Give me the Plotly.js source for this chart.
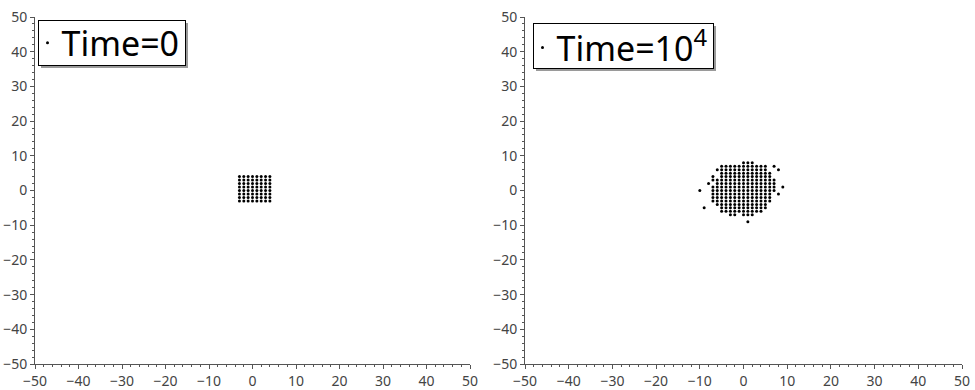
<!DOCTYPE html>
<html>
<head>
<meta charset="utf-8">
<script src="https://cdn.plot.ly/plotly-3.0.1.min.js"></script>
<style>
  html, body { margin: 0; padding: 0; background: #fff; }
  #chart { width: 975px; height: 390px; }
</style>
</head>
<body>
<div id="chart"></div>
<script>
// Initial configuration: a square lattice of particles
const startCols = [-3, -2, -1, 0, 1, 2, 3, 4];
const startRows = [4, 3, 2, 1, 0, -1, -2, -3];

// Configuration after 10^4 steps: occupied x positions for each row y
const laterRowY = [8, 7, 6, 5, 4, 3, 2, 1, 0, -1, -2, -3, -4, -5, -6, -7, -9];
const laterRowX = [
  [0, 1, 2],
  [-5, -4, -3, -2, -1, 0, 1, 2, 3, 4, 5, 7],
  [-6, -5, -4, -3, -2, -1, 0, 1, 2, 3, 4, 5, 8],
  [-5, -4, -3, -2, -1, 0, 1, 2, 3, 4, 5, 6],
  [-7, -5, -4, -3, -2, -1, 0, 1, 2, 3, 4, 5, 6],
  [-7, -6, -5, -4, -3, -2, -1, 0, 1, 2, 3, 4, 5, 6, 7],
  [-8, -6, -5, -4, -3, -2, -1, 0, 1, 2, 3, 4, 5, 6, 7],
  [-7, -6, -5, -4, -3, -2, -1, 0, 1, 2, 3, 4, 5, 6, 7, 9],
  [-10, -7, -6, -5, -4, -3, -2, -1, 0, 1, 2, 3, 4, 5, 6, 7],
  [-7, -6, -5, -4, -3, -2, -1, 0, 1, 2, 3, 4, 5, 6, 8],
  [-7, -6, -5, -4, -3, -2, -1, 0, 1, 2, 3, 4, 5, 6],
  [-7, -6, -5, -4, -3, -2, -1, 0, 1, 2, 3, 4, 5, 6],
  [-6, -5, -4, -3, -2, -1, 0, 1, 2, 3, 4, 5],
  [-9, -5, -4, -3, -2, -1, 0, 1, 2, 3, 4, 5],
  [-5, -4, -3, -2, -1, 0, 1, 2, 3, 4],
  [-3, -2, 0, 1, 2],
  [1]
];

const legendNames = ['Time=0', 'Time=10<sup>4</sup>'];
const axisRange = [-50, 50];

// Flatten the lattice and the row lists into x/y point lists
const x0 = [], y0 = [];
startRows.forEach(function (yv) { startCols.forEach(function (xv) { x0.push(xv); y0.push(yv); }); });
const x1 = [], y1 = [];
laterRowY.forEach(function (yv, i) { laterRowX[i].forEach(function (xv) { x1.push(xv); y1.push(yv); }); });

const dot = { color: '#000', size: 3, line: { width: 0 } };

const traces = [
  { x: x0, y: y0, type: 'scatter', mode: 'markers', marker: dot,
    name: legendNames[0], xaxis: 'x', yaxis: 'y', legend: 'legend', hoverinfo: 'skip' },
  { x: x1, y: y1, type: 'scatter', mode: 'markers', marker: dot,
    name: legendNames[1], xaxis: 'x2', yaxis: 'y2', legend: 'legend2', hoverinfo: 'skip' }
];

const axisColor = '#555';
const tickFont = { family: 'Noto Sans, Open Sans, sans-serif', size: 14, color: '#444' };

function makeAxis(domain, anchor) {
  return {
    domain: domain, anchor: anchor, range: axisRange, autorange: false,
    dtick: 10, tick0: 0, ticks: 'outside', ticklen: 4, tickwidth: 1, tickcolor: axisColor,
    minor: { dtick: 2, ticks: 'outside', ticklen: 2, tickwidth: 1, tickcolor: axisColor, showgrid: false },
    showline: true, linecolor: axisColor, linewidth: 1,
    showgrid: false, zeroline: false, tickfont: tickFont, fixedrange: true
  };
}

const yDom = [26 / 390, 373 / 390];

const legendFont = { family: 'Noto Sans, Open Sans, sans-serif', size: 34, color: '#000' };
function makeLegend(xp) {
  return {
    x: xp, y: 371 / 390, xanchor: 'left', yanchor: 'top',
    font: legendFont, bgcolor: '#fff', bordercolor: '#000', borderwidth: 1,
    itemwidth: 30, tracegroupgap: 0
  };
}

const layout = {
  width: 975, height: 390,
  margin: { l: 0, r: 0, t: 0, b: 0 },
  paper_bgcolor: '#fff', plot_bgcolor: '#fff',
  showlegend: true,
  xaxis: makeAxis([35 / 975, 470 / 975], 'y'),
  yaxis: makeAxis(yDom, 'x'),
  xaxis2: makeAxis([525 / 975, 962 / 975], 'y2'),
  yaxis2: makeAxis(yDom, 'x2'),
  legend: makeLegend(38 / 975),
  legend2: makeLegend(533 / 975)
};

// Compact legend box geometry (pixels): marker and text offsets, padding, height
const boxStyle = { dotX: 9, textX: 23, padRight: 6, height: 45, textMid: 23 };
// frame top edge (pixels) for the legend of the left and of the right panel
const boxTopLeft = 20, boxTopRight = 23;

function compactLegend(lg, root) {
  const bg = lg.querySelector(':scope > rect.bg');
  // the label class follows the legend id (legendtext, legend2text, ...)
  const txt = lg.querySelector('g.traces > text');
  if (!bg || !txt || !txt.textContent) return;
  const state = bg.getAttribute('width') + '|' + lg.getAttribute('transform') + '|' + txt.getAttribute('x');
  if (bg.getAttribute('data-state') === state) return;

  const pts = lg.querySelector('.legendpoints');
  const b0 = bg.getBoundingClientRect();
  // pull the marker and the label in towards the left border
  if (pts) {
    const pr = pts.getBoundingClientRect();
    const pcx = (pr.left + pr.right) / 2;
    const prev = parseFloat(pts.getAttribute('data-dx') || 0);
    const dpx = prev + (b0.left + boxStyle.dotX) - pcx;
    pts.setAttribute('data-dx', dpx);
    pts.setAttribute('transform', 'translate(' + dpx + ',0)');
  }
  const t0 = txt.getBoundingClientRect();
  txt.setAttribute('x', parseFloat(txt.getAttribute('x') || 0) + (b0.left + boxStyle.textX) - t0.left);
  const t1 = txt.getBoundingClientRect();
  // tighten the frame around the label
  const by = parseFloat(bg.getAttribute('y') || 0);
  const tMid = (t1.top + t1.bottom) / 2;
  bg.setAttribute('y', by + (tMid - boxStyle.textMid - b0.top));
  bg.setAttribute('height', boxStyle.height);
  bg.setAttribute('width', (t1.right + boxStyle.padRight) - b0.left);
  // place the whole legend so the frame top sits at the wanted height
  const b1 = bg.getBoundingClientRect();
  const topPx = (b1.left - root.left) < root.width / 2 ? boxTopLeft : boxTopRight;
  const shiftY = topPx - (b1.top - root.top);
  if (Math.abs(shiftY) > 0.01) {
    lg.setAttribute('transform', (lg.getAttribute('transform') || '') + ' translate(0,' + shiftY + ')');
  }
  // grey drop shadow behind the frame
  lg.querySelectorAll(':scope > rect.legend-shadow').forEach(function (s) { s.remove(); });
  const sh = bg.cloneNode(false);
  sh.removeAttribute('data-state');
  sh.setAttribute('class', 'legend-shadow');
  sh.style.fill = '#9a9a9a';
  sh.style.stroke = 'none';
  sh.setAttribute('transform', 'translate(2.5,2.5)');
  bg.parentNode.insertBefore(sh, bg);
  // drop clipping so nothing of the label is cut
  const sb = lg.querySelector('.scrollbox');
  if (sb) sb.removeAttribute('clip-path');
  bg.setAttribute('data-state', bg.getAttribute('width') + '|' + lg.getAttribute('transform') + '|' + txt.getAttribute('x'));
}

function compactAll(gd) {
  const root = gd.getBoundingClientRect();
  gd.querySelectorAll('g.infolayer > g').forEach(function (g) {
    if (g.querySelector(':scope > rect.bg')) compactLegend(g, root);
  });
}

const chart = document.getElementById('chart');
Plotly.newPlot(chart, traces, layout, { staticPlot: true, displayModeBar: false }).then(function (gd) {
  compactAll(gd);
  gd.on('plotly_afterplot', function () { compactAll(gd); });
  // legends can be (re)drawn a little later, so keep checking for a while
  let n = 0;
  const timer = setInterval(function () {
    compactAll(gd);
    if (++n > 60) clearInterval(timer);
  }, 25);
});
</script>
</body>
</html>
